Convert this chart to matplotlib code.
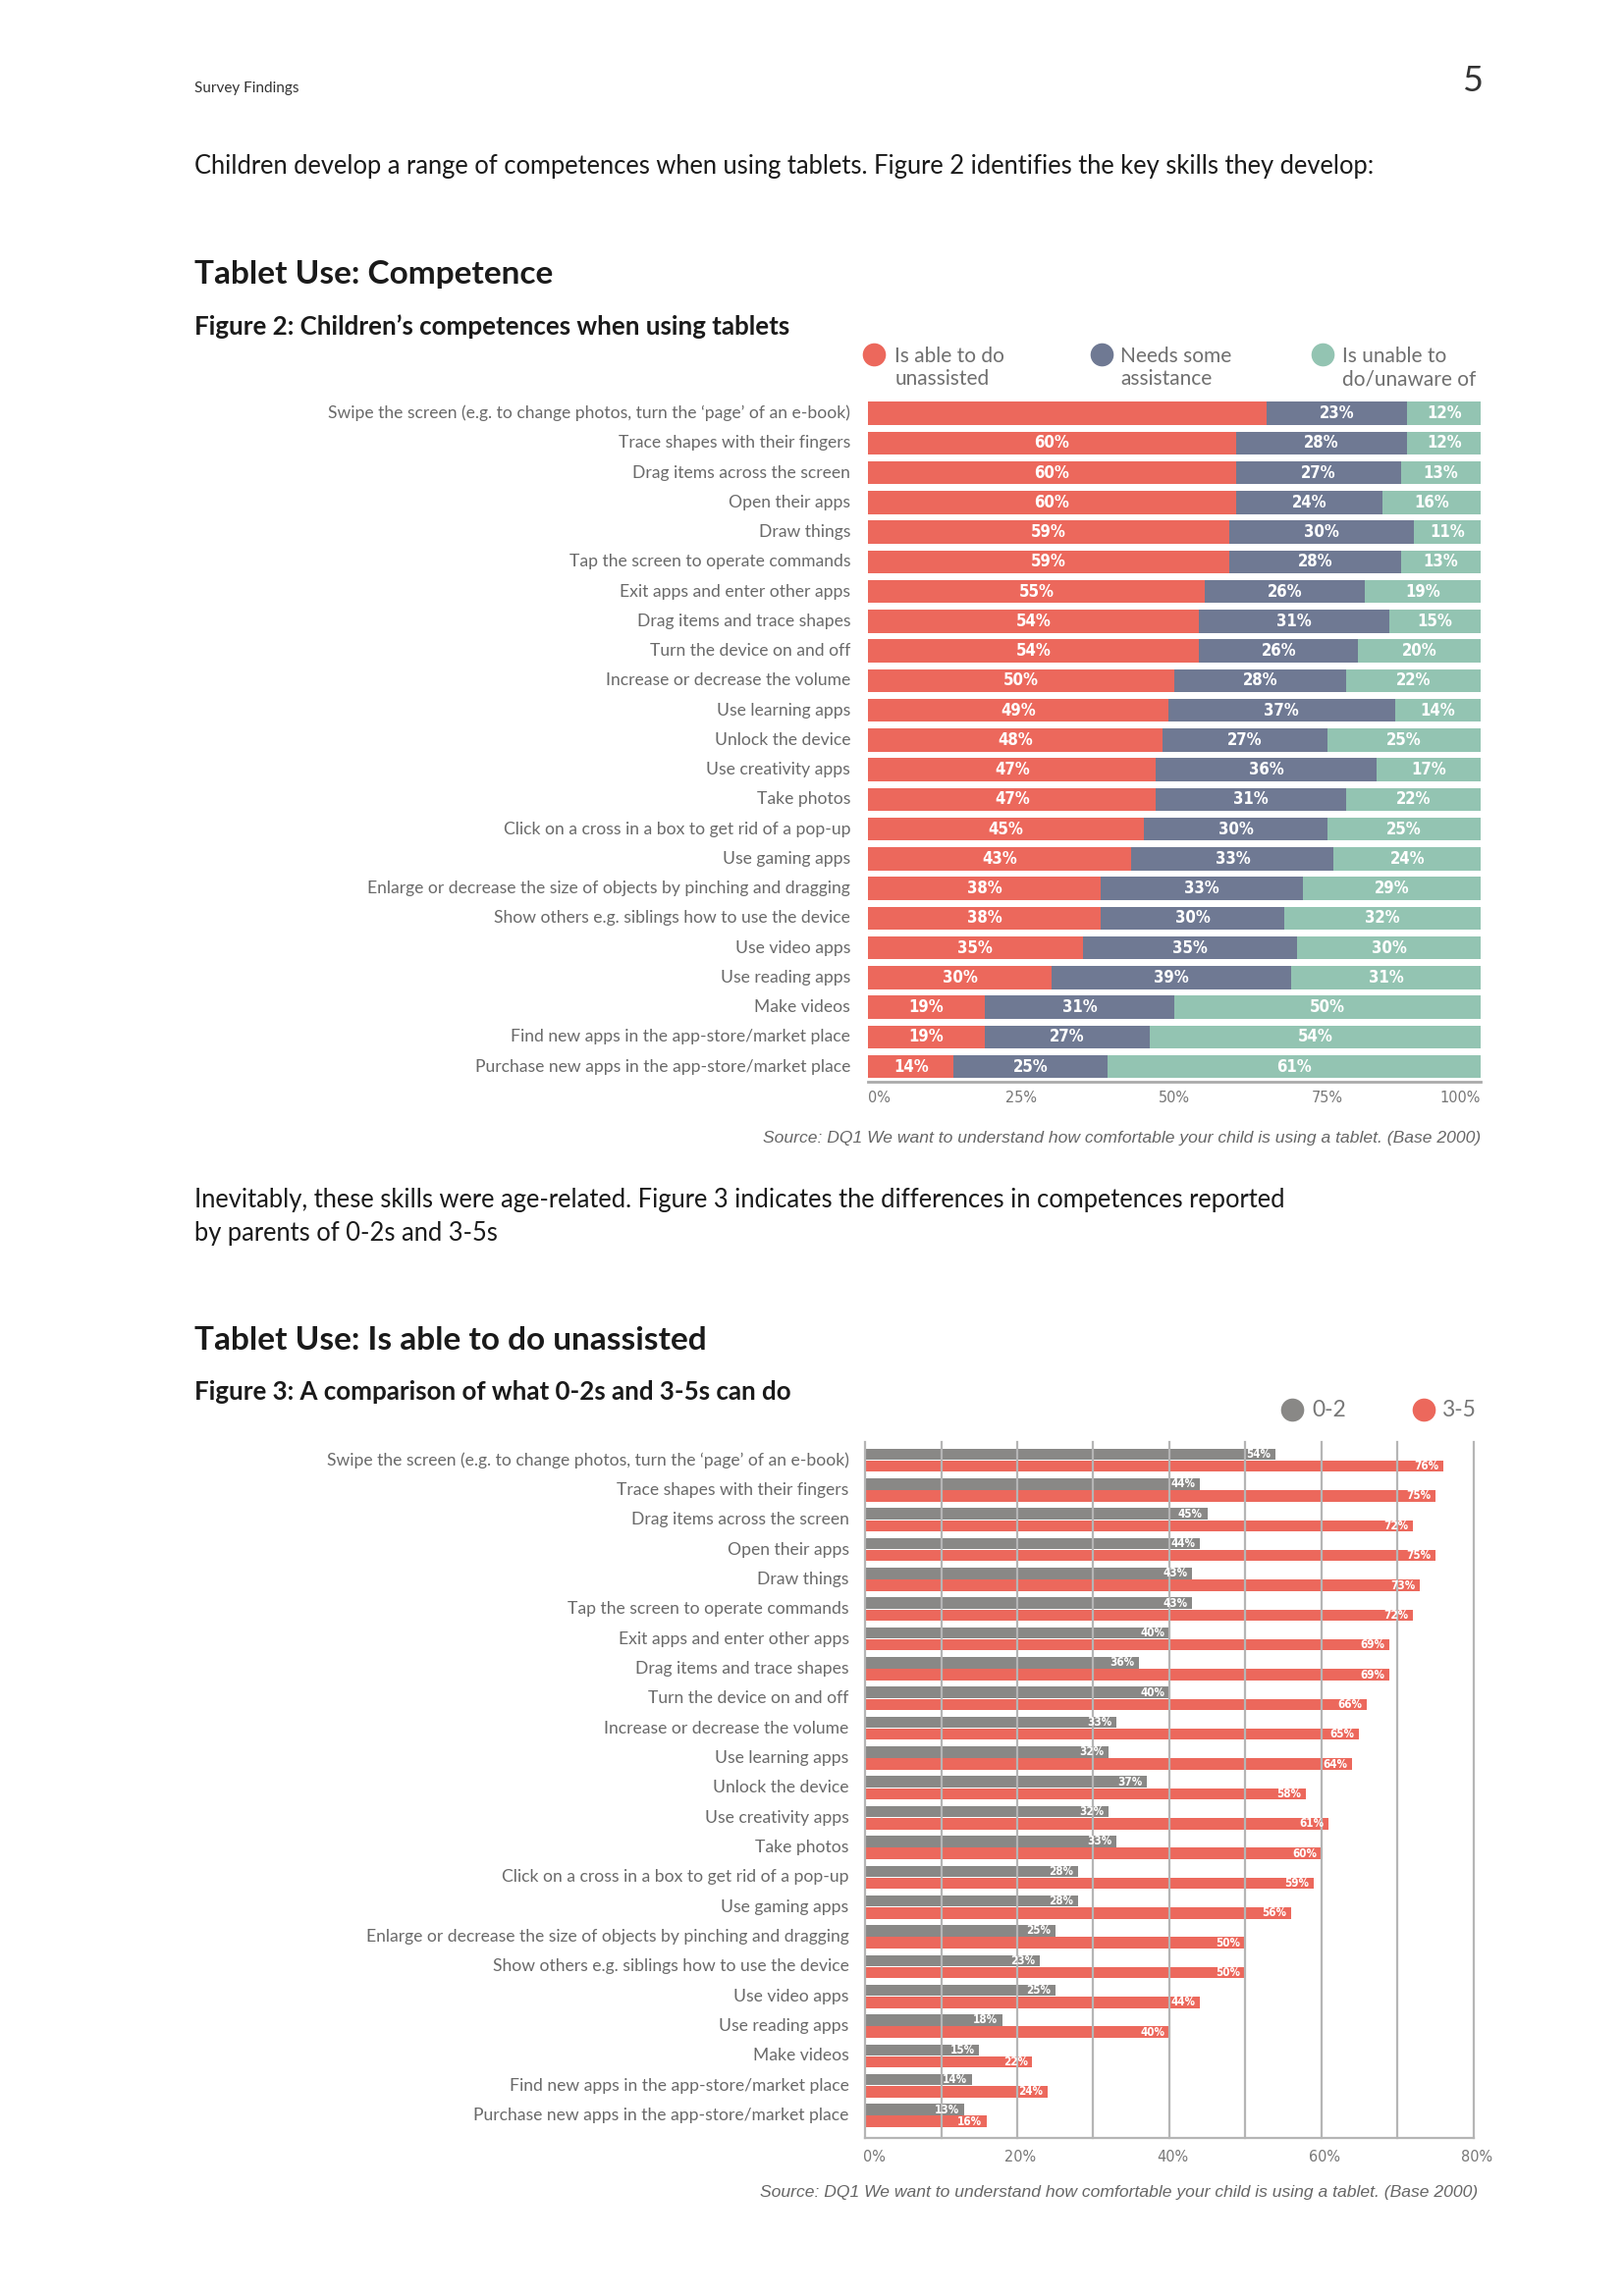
import matplotlib
matplotlib.use("Agg")
import matplotlib.pyplot as plt
from matplotlib.transforms import blended_transform_factory
import numpy as np

# ---------------- data ----------------
categories = [
    "Swipe the screen (e.g. to change photos, turn the \u2018page\u2019 of an e-book)",
    "Trace shapes with their fingers",
    "Drag items across the screen",
    "Open their apps",
    "Draw things",
    "Tap the screen to operate commands",
    "Exit apps and enter other apps",
    "Drag items and trace shapes",
    "Turn the device on and off",
    "Increase or decrease the volume",
    "Use learning apps",
    "Unlock the device",
    "Use creativity apps",
    "Take photos",
    "Click on a cross in a box to get rid of a pop-up",
    "Use gaming apps",
    "Enlarge or decrease the size of objects by pinching and dragging",
    "Show others e.g. siblings how to use the device",
    "Use video apps",
    "Use reading apps",
    "Make videos",
    "Find new apps in the app-store/market place",
    "Purchase new apps in the app-store/market place",
]

unassisted = [65, 60, 60, 60, 59, 59, 55, 54, 54, 50, 49, 48, 47, 47, 45, 43, 38, 38, 35, 30, 19, 19, 14]
assistance = [23, 28, 27, 24, 30, 28, 26, 31, 26, 28, 37, 27, 36, 31, 30, 33, 33, 30, 35, 39, 31, 27, 25]
unable = [12, 12, 13, 16, 11, 13, 19, 15, 20, 22, 14, 25, 17, 22, 25, 24, 29, 32, 30, 31, 50, 54, 61]
fig2_series_names = ["Is able to do\nunassisted", "Needs some\nassistance", "Is unable to\ndo/unaware of"]
fig2_ticks = [0, 25, 50, 75, 100]
fig2_hidden_labels = [(0, 0)]  # (series, row) with no value label in the original

age_0_2 = [54, 44, 45, 44, 43, 43, 40, 36, 40, 33, 32, 37, 32, 33, 28, 28, 25, 23, 25, 18, 15, 14, 13]
age_3_5 = [76, 75, 72, 75, 73, 72, 69, 69, 66, 65, 64, 58, 61, 60, 59, 56, 50, 50, 44, 40, 22, 24, 16]
fig3_series_names = ["0-2", "3-5"]
fig3_ticks = [0, 20, 40, 60, 80]
fig3_grid = [0, 10, 20, 30, 40, 50, 60, 70, 80]

# ---------------- style ----------------
RED = "#EC685C"
BLUE = "#6F7993"
GREEN = "#93C4B2"
GREY = "#898886"
LABEL = "#6a6a6a"
TXT = "#1a1a1a"
BODY = ["Lato", "DejaVu Sans"]
NARROW = ["DejaVu Sans"]

plt.rcParams["font.family"] = BODY

fig = plt.figure(figsize=(8.27, 11.695), dpi=200)
W, H = 1100.0, 1555.2


def fx(d):
    return d / W


def fy(d):
    return 1 - d / H


# ---------------- page text ----------------
fig.text(fx(132), fy(60), "Survey Findings", fontsize=5.5, color="#333333", va="center", ha="left")
fig.text(fx(997), fy(55), "5", fontsize=13, color="#333333", va="center", ha="center")
fig.text(fx(132), fy(113),
         "Children develop a range of competences when using tablets. Figure 2 identifies the key skills they develop:",
         fontsize=9.2, color=TXT, va="center", ha="left")
fig.text(fx(132), fy(186), "Tablet Use: Competence", fontsize=12, color=TXT, va="center", ha="left", fontweight="bold")
fig.text(fx(132), fy(221), "Figure 2: Children\u2019s competences when using tablets", fontsize=9.3, color=TXT,
         va="center", ha="left", fontweight="bold")

fig.text(fx(132), fy(824),
         "Inevitably, these skills were age-related. Figure 3 indicates the differences in competences reported\nby parents of 0-2s and 3-5s",
         fontsize=9.2, color=TXT, va="center", ha="left", linespacing=1.45)
fig.text(fx(132), fy(908), "Tablet Use: Is able to do unassisted", fontsize=12, color=TXT, va="center", ha="left",
         fontweight="bold")
fig.text(fx(132), fy(943), "Figure 3: A comparison of what 0-2s and 3-5s can do", fontsize=9.3, color=TXT,
         va="center", ha="left", fontweight="bold")

# ---------------- Figure 2 ----------------
n = len(categories)
x0, x1 = 588, 1003
ax2 = fig.add_axes([fx(x0), fy(732.5), fx(x1) - fx(x0), fy(270) - fy(732.5)])
y = np.arange(n)
series2 = [unassisted, assistance, unable]
colors2 = [RED, BLUE, GREEN]
left = np.zeros(n)
for si, (vals, c) in enumerate(zip(series2, colors2)):
    vals = np.array(vals, dtype=float)
    ax2.barh(y, vals, left=left, height=0.78, color=c, edgecolor="none")
    for i, v in enumerate(vals):
        if (si, i) in fig2_hidden_labels:
            continue
        ax2.text(left[i] + v / 2, i, f"{int(v)}%", ha="center", va="center", color="white",
                 fontsize=6.0, fontweight="bold", family=NARROW, fontstretch="condensed")
    left += vals
ax2.set_xlim(0, 100)
ax2.set_ylim(n - 0.5, -0.5)
ax2.axis("off")
ax2.axhline(n - 0.5 + 0.0, color="#aaaaaa", lw=1.0, clip_on=False)

tr2 = blended_transform_factory(fig.transFigure, ax2.transData)
for i, c in enumerate(categories):
    ax2.text(fx(576), i, c, transform=tr2, ha="right", va="center", fontsize=6.3, color=LABEL)

trx2 = blended_transform_factory(ax2.transData, fig.transFigure)
for t in fig2_ticks:
    ha = "left" if t == fig2_ticks[0] else ("right" if t == fig2_ticks[-1] else "center")
    ax2.text(t, fy(744), f"{t}%", transform=trx2, ha=ha, va="center", fontsize=5.8, color="#777777",
             family=NARROW, fontstretch="condensed")

fig.text(fx(1003), fy(771),
         "Source: DQ1 We want to understand how comfortable your child is using a tablet. (Base 2000)",
         fontsize=6.3, color="#666666", ha="right", va="center", style="italic", family=["Liberation Sans"])

# legend fig 2
leg2 = [(592, 606), (746, 759), (896, 909)]
for (cx, tx), name, c in zip(leg2, fig2_series_names, colors2):
    fig.lines.append(plt.Line2D([fx(cx)], [fy(240)], marker="o", markersize=7.5, color=c, linestyle="none",
                                transform=fig.transFigure))
    fig.text(fx(tx), fy(249), name, fontsize=7.5, color="#6f6f6f", ha="left", va="center", linespacing=1.2)

# ---------------- Figure 3 ----------------
g0, g1 = 586, 998
ax3 = fig.add_axes([fx(g0), fy(1443), fx(g1) - fx(g0), fy(979) - fy(1443)])
bh = 0.38
a = np.array(age_0_2, dtype=float)
b = np.array(age_3_5, dtype=float)
ax3.barh(y - bh / 2 - 0.01, a, height=bh, color=GREY, edgecolor="none", zorder=2)
ax3.barh(y + bh / 2 + 0.01, b, height=bh, color=RED, edgecolor="none", zorder=2)
for i in range(n):
    ax3.text(a[i] - 0.6, i - bh / 2 - 0.01, f"{int(a[i])}%", ha="right", va="center", color="white",
             fontsize=4.2, fontweight="bold", family=NARROW, fontstretch="condensed", zorder=4)
    ax3.text(b[i] - 0.6, i + bh / 2 + 0.01, f"{int(b[i])}%", ha="right", va="center", color="white",
             fontsize=4.2, fontweight="bold", family=NARROW, fontstretch="condensed", zorder=4)
for gx in fig3_grid:
    ax3.plot([gx, gx], [-0.6, n - 0.5 + 0.25], color="#b5b5b5", lw=0.8, zorder=3, clip_on=False)
ax3.plot([0, 80], [n - 0.5 + 0.25, n - 0.5 + 0.25], color="#b5b5b5", lw=0.8, zorder=3, clip_on=False)
ax3.set_xlim(0, 80)
ax3.set_ylim(n - 0.5, -0.5)
ax3.axis("off")

tr3 = blended_transform_factory(fig.transFigure, ax3.transData)
for i, c in enumerate(categories):
    ax3.text(fx(575), i, c, transform=tr3, ha="right", va="center", fontsize=6.3, color=LABEL)

trx3 = blended_transform_factory(ax3.transData, fig.transFigure)
for t in fig3_ticks:
    off = 1.2 if t == 0 else 0.4
    ax3.text(t + off, fy(1461), f"{t}%", transform=trx3, ha="center", va="center", fontsize=5.8, color="#777777",
             family=NARROW, fontstretch="condensed")

fig.text(fx(1001), fy(1485),
         "Source: DQ1 We want to understand how comfortable your child is using a tablet. (Base 2000)",
         fontsize=6.3, color="#666666", ha="right", va="center", style="italic", family=["Liberation Sans"])

leg3 = [(875, 889), (964, 977)]
for (cx, tx), name, c in zip(leg3, fig3_series_names, [GREY, RED]):
    fig.lines.append(plt.Line2D([fx(cx)], [fy(955)], marker="o", markersize=7.5, color=c, linestyle="none",
                                transform=fig.transFigure))
    fig.text(fx(tx), fy(955), name, fontsize=8.2, color="#777777", ha="left", va="center")

fig.savefig("out.png", dpi=200, facecolor="white")
